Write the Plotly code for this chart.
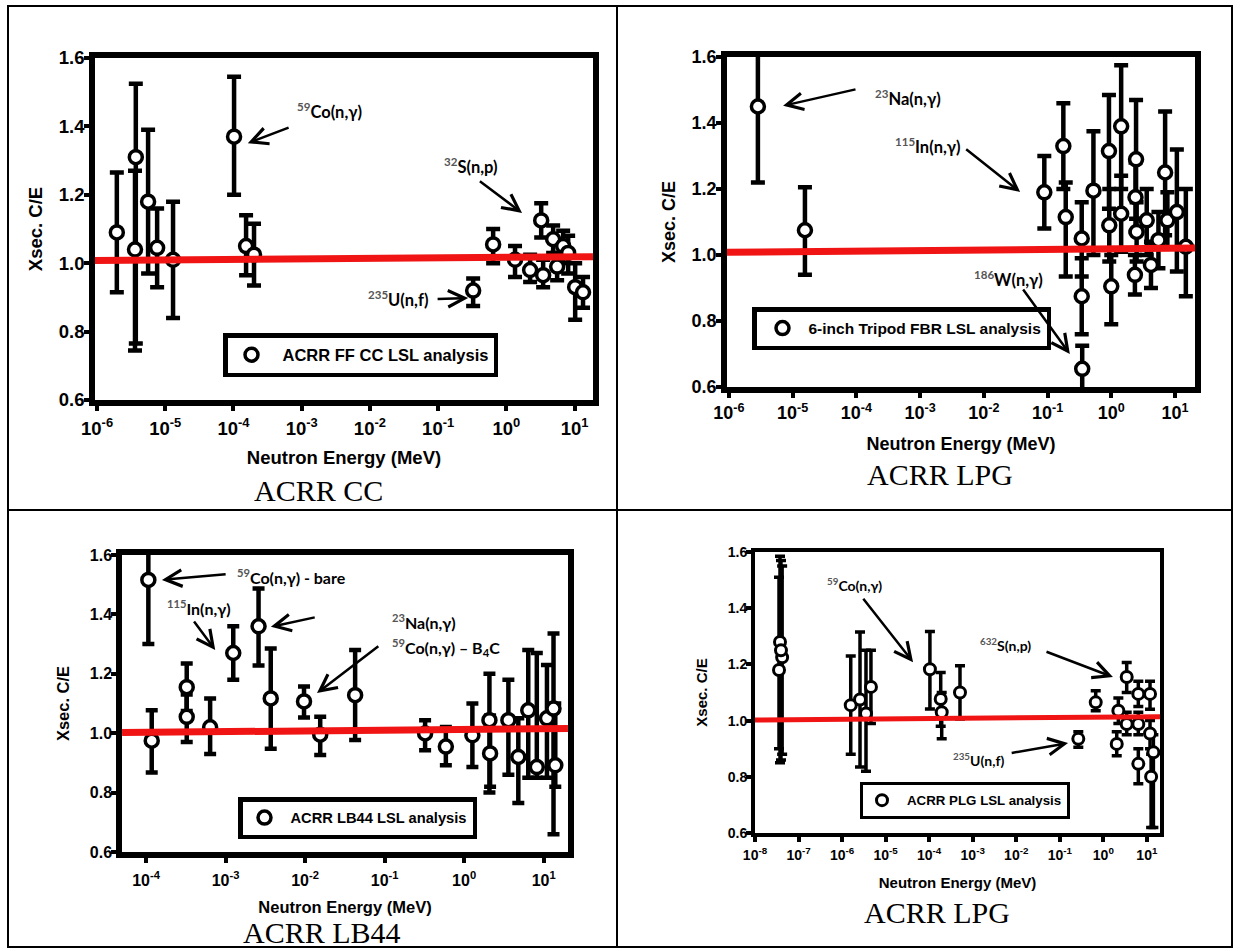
import plotly.graph_objects as go

W, H = 1240, 951

# ---------------- ACRR FF CC (central cavity) ----------------
cc_energy = [1.95e-6, 3.7e-6, 3.6e-6, 5.6e-6, 7.6e-6, 1.3e-5, 1.02e-4, 1.53e-4, 2.0e-4,
             0.326, 0.64, 1.34, 3.24, 2.23, 3.46, 4.85, 6.8, 5.55, 8.05, 10.2, 13.3]
cc_ratio = [1.09, 1.31, 1.04, 1.18, 1.045, 1.01, 1.37, 1.05, 1.025,
            0.92, 1.055, 1.01, 1.125, 0.98, 0.965, 1.07, 1.05, 0.99, 1.03, 0.93, 0.915]
cc_upper = [1.265, 1.525, 1.27, 1.39, 1.16, 1.18, 1.545, 1.14, 1.115,
            0.955, 1.10, 1.05, 1.175, 1.025, 1.01, 1.11, 1.095, 1.03, 1.08, 1.0, 0.96]
cc_lower = [0.915, 0.765, 0.745, 0.97, 0.93, 0.84, 1.20, 0.965, 0.935,
            0.875, 1.0, 0.96, 1.075, 0.945, 0.93, 1.03, 1.0, 0.95, 0.97, 0.835, 0.87]
cc_fit_energy = [9.3e-7, 18.6]
cc_fit_ratio = [1.008, 1.019]

# ---------------- 6-inch Tripod FBR (ACRR LPG) ----------------
tp_energy = [2.85e-6, 1.56e-5, 0.089, 0.177, 0.193, 0.344, 0.344, 0.35, 0.525, 0.92, 0.93,
             1.0, 1.43, 1.43, 2.45, 2.4, 2.5, 2.35, 3.6, 4.2, 5.5, 7.0, 7.6, 10.7, 14.8]
tp_ratio = [1.45, 1.075, 1.19, 1.33, 1.115, 1.05, 0.875, 0.655, 1.195, 1.315, 1.09,
            0.905, 1.39, 1.125, 1.29, 1.175, 1.07, 0.94, 1.105, 0.97, 1.045, 1.25, 1.105, 1.13, 1.025]
tp_upper = [1.68, 1.205, 1.30, 1.46, 1.22, 1.16, 0.99, 0.725, 1.375, 1.485, 1.20,
            1.0, 1.575, 1.24, 1.47, 1.28, 1.16, 1.0, 1.2, 1.04, 1.13, 1.435, 1.19, 1.32, 1.2]
tp_lower = [1.22, 0.94, 1.08, 1.2, 0.935, 0.935, 0.76, 0.57, 1.0, 1.14, 0.98,
            0.79, 1.2, 1.01, 1.11, 1.07, 0.98, 0.88, 1.0, 0.9, 0.96, 1.06, 1.02, 0.95, 0.875]
tp_fit_energy = [9.3e-7, 20.6]
tp_fit_ratio = [1.008, 1.021]

# ---------------- ACRR LB44 ----------------
lb_energy = [1.07e-4, 1.18e-4, 3.25e-4, 3.25e-4, 6.4e-4, 1.25e-3, 2.6e-3, 3.7e-3, 9.7e-3,
             1.55e-2, 4.26e-2, 0.323, 0.589, 1.27, 2.08, 2.12, 3.6, 4.8, 6.4, 8.2, 11.0, 13.3, 14.0]
lb_ratio = [1.516, 0.975, 1.155, 1.055, 1.02, 1.27, 1.36, 1.117, 1.107,
            0.995, 1.128, 0.999, 0.955, 0.993, 1.044, 0.932, 1.044, 0.92, 1.077, 0.886, 1.05, 1.083, 0.892]
lb_upper = [1.66, 1.077, 1.235, 1.13, 1.117, 1.36, 1.487, 1.285, 1.157,
            1.055, 1.28, 1.044, 1.021, 1.10, 1.20, 1.06, 1.18, 1.05, 1.28, 1.27, 1.23, 1.336, 1.10]
lb_lower = [1.30, 0.868, 1.075, 0.97, 0.93, 1.18, 1.228, 0.948, 1.053,
            0.927, 0.977, 0.943, 0.892, 0.886, 0.80, 0.82, 0.86, 0.765, 0.85, 0.85, 0.85, 0.66, 0.82]
lb_fit_energy = [5.0e-5, 20.2]
lb_fit_ratio = [1.002, 1.016]

# ---------------- ACRR PLG ----------------
pl_energy = [3.56e-8, 3.75e-8, 4.2e-8, 3.95e-8, 1.58e-6, 2.58e-6, 3.54e-6, 4.6e-6, 1.04e-4,
             1.84e-4, 1.94e-4, 5.1e-4, 0.266, 0.668, 3.44, 6.35, 11.8, 2.21, 3.44, 2.03,
             6.35, 6.35, 14.1, 11.8, 12.5]
pl_ratio = [1.18, 1.28, 1.225, 1.25, 1.055, 1.075, 1.025, 1.12, 1.183,
            1.077, 1.03, 1.10, 0.935, 1.065, 1.155, 1.095, 1.095, 1.035, 0.988, 0.917,
            0.988, 0.846, 0.887, 0.954, 0.80]
pl_upper = [1.51, 1.585, 1.55, 1.57, 1.23, 1.315, 1.25, 1.25, 1.317,
            1.171, 1.10, 1.195, 0.96, 1.106, 1.207, 1.14, 1.14, 1.08, 1.03, 0.96,
            1.03, 0.90, 0.95, 1.0, 0.88]
pl_lower = [0.90, 0.85, 0.88, 0.86, 0.88, 0.835, 0.82, 0.99, 1.041,
            0.98, 0.935, 1.006, 0.905, 1.035, 1.10, 1.05, 1.04, 0.99, 0.95, 0.875,
            0.95, 0.775, 0.62, 0.90, 0.62]
pl_fit_energy = [1.0e-8, 20.0]
pl_fit_ratio = [1.002, 1.014]

y_ticks = [0.6, 0.8, 1.0, 1.2, 1.4, 1.6]

SANS = "Liberation Sans"
LABEL = "Lato"
SERIF = "Liberation Serif"


def sup_label(mass, rest):
    return f"<span style='color:#555555'><sup>{mass}</sup></span>{rest}"


panels = [
    dict(energy=cc_energy, ratio=cc_ratio, upper=cc_upper, lower=cc_lower,
         fit_e=cc_fit_energy, fit_r=cc_fit_ratio, legend_name="ACRR FF CC LSL analysis",
         box=(95, 593, 58, 400), xrange=(-6.03, 1.27), decades=range(-6, 2),
         tick=18.5, title=18.5, leg=16.5, msize=13, mline=3.5, bar=4.5, cap=7, frame=5.5, red=7,
         lab=16.5, legpos=(223, 333), indent=-7, itemw=52, ytitle_std=13, xtitle_std=15,
         xlab_std=2, caption=("ACRR CC", 318, 490, "middle"),
         labels=[(sup_label(59, "Co(n,γ)"), -3.10, 1.445, "left"),
                 (sup_label(32, "S(n,p)"), -0.95, 1.283, "left"),
                 (sup_label(235, "U(n,f)"), -1.10, 0.895, "right")],
         arrows=[(-3.79, 1.351, -3.17, 1.398),
                 (0.23, 1.147, -0.41, 1.243),
                 (-0.56, 0.898, -1.03, 0.895)]),
    dict(energy=tp_energy, ratio=tp_ratio, upper=tp_upper, lower=tp_lower,
         fit_e=tp_fit_energy, fit_r=tp_fit_ratio, legend_name="6-inch Tripod FBR LSL analysis",
         box=(727, 1195, 57, 387), xrange=(-6.03, 1.314), decades=range(-6, 2),
         tick=18, title=18, leg=15.5, msize=13, mline=3.5, bar=4.5, cap=7, frame=5.5, red=7,
         lab=16.5, legpos=(752, 307), indent=0, itemw=42, ytitle_std=13, xtitle_std=17,
         xlab_std=0, caption=("ACRR LPG", 940, 474, "middle"),
         labels=[(sup_label(23, "Na(n,γ)"), -3.74, 1.476, "left"),
                 (sup_label(115, "In(n,γ)"), -3.43, 1.330, "left"),
                 (sup_label(186, "W(n,γ)"), -2.19, 0.926, "left")],
         arrows=[(-5.15, 1.452, -3.99, 1.503),
                 (-1.43, 1.191, -2.30, 1.324),
                 (-0.65, 0.70, -1.40, 0.90)]),
    dict(energy=lb_energy, ratio=lb_ratio, upper=lb_upper, lower=lb_lower,
         fit_e=lb_fit_energy, fit_r=lb_fit_ratio, legend_name="ACRR LB44 LSL analysis",
         box=(122, 568, 555, 852), xrange=(-4.302, 1.306), decades=range(-4, 2),
         tick=16, title=16.5, leg=14.7, msize=13, mline=3.5, bar=4.5, cap=6, frame=5.5, red=7,
         lab=16, legpos=(238, 797), indent=-4, itemw=42, ytitle_std=18, xtitle_std=15,
         xlab_std=4, caption=("ACRR LB44", 322, 951, "bottom"),
         labels=[(sup_label(59, "Co(n,γ) - bare"), -2.88, 1.528, "left"),
                 (sup_label(115, "In(n,γ)"), -3.76, 1.424, "left"),
                 (sup_label(23, "Na(n,γ)"), -0.93, 1.376, "left"),
                 (sup_label(59, "Co(n,γ) – B<sub>4</sub>C"), -0.93, 1.289, "left")],
         arrows=[(-3.80, 1.516, -2.98, 1.536),
                 (-3.13, 1.280, -3.41, 1.381),
                 (-2.43, 1.358, -1.86, 1.391),
                 (-1.85, 1.135, -1.06, 1.297)]),
    dict(energy=pl_energy, ratio=pl_ratio, upper=pl_upper, lower=pl_lower,
         fit_e=pl_fit_energy, fit_r=pl_fit_ratio, legend_name="ACRR PLG LSL analysis",
         box=(755, 1160, 552, 833), xrange=(-8.0, 1.301), decades=range(-8, 2),
         tick=14, title=15, leg=13.3, msize=11, mline=3, bar=3.5, cap=5, frame=4, red=5,
         lab=14, legpos=(860, 782), indent=-6, itemw=40, ytitle_std=17, xtitle_std=17,
         xlab_std=1, caption=("ACRR LPG", 937, 912, "middle"),
         labels=[(sup_label(59, "Co(n,γ)"), -6.39, 1.484, "left"),
                 (sup_label(632, "S(n,p)"), -2.88, 1.270, "left"),
                 (sup_label(235, "U(n,f)"), -2.21, 0.862, "right")],
         arrows=[(-4.37, 1.208, -5.54, 1.439),
                 (0.22, 1.155, -1.34, 1.247),
                 (-0.81, 0.92, -2.14, 0.884)]),
]

fig = go.Figure()
layout = dict(width=W, height=H, margin=dict(l=0, r=0, t=0, b=0), autosize=False,
              paper_bgcolor="white", plot_bgcolor="white", showlegend=True)
annotations = []
shapes = []

for i, p in enumerate(panels, start=1):
    xa = "x" if i == 1 else f"x{i}"
    ya = "y" if i == 1 else f"y{i}"
    leg = "legend" if i == 1 else f"legend{i}"
    e_plus = [u - r for u, r in zip(p["upper"], p["ratio"])]
    e_minus = [r - l for r, l in zip(p["ratio"], p["lower"])]

    fig.add_trace(go.Scatter(
        x=p["energy"], y=p["ratio"], mode="markers", name=p["legend_name"],
        xaxis=xa, yaxis=ya, legend=leg, cliponaxis=True,
        marker=dict(symbol="circle", size=p["msize"], color="white",
                    line=dict(color="black", width=p["mline"])),
        error_y=dict(type="data", symmetric=False, array=e_plus, arrayminus=e_minus,
                     color="black", thickness=p["bar"], width=p["cap"]),
    ))
    fig.add_trace(go.Scatter(
        x=p["fit_e"], y=p["fit_r"], mode="lines", showlegend=False,
        xaxis=xa, yaxis=ya, line=dict(color="#f01414", width=p["red"]),
    ))

    x0, x1, y0, y1 = p["box"]
    axis_common = dict(showline=True, mirror=True, linecolor="black", linewidth=p["frame"],
                       ticks="outside", ticklen=5, tickwidth=4, tickcolor="black",
                       showgrid=False, zeroline=False, automargin=False,
                       tickfont=dict(family=SANS, size=p["tick"], color="black", weight="bold"))
    tickvals = [10.0 ** k for k in p["decades"]]
    ticktext = [f"10<sup>{k}</sup>" for k in p["decades"]]
    layout["xaxis" if i == 1 else f"xaxis{i}"] = dict(
        axis_common, type="log", range=list(p["xrange"]), domain=[x0 / W, x1 / W],
        anchor=ya, tickvals=tickvals, ticktext=ticktext, ticklabelstandoff=p["xlab_std"],
        title=dict(text="Neutron Energy (MeV)", standoff=p["xtitle_std"],
                   font=dict(family=SANS, size=p["title"], color="black", weight="bold")))
    layout["yaxis" if i == 1 else f"yaxis{i}"] = dict(
        axis_common, range=[0.6, 1.6], domain=[1 - y1 / H, 1 - y0 / H], anchor=xa,
        tickvals=y_ticks, tickformat=".1f", ticklabelstandoff=-4,
        title=dict(text="Xsec. C/E", standoff=p["ytitle_std"],
                   font=dict(family=SANS, size=p["title"], color="black", weight="bold")))

    lx, ly = p["legpos"]
    layout[leg] = dict(x=lx / W, y=1 - ly / H, xanchor="left", yanchor="top",
                       xref="paper", yref="paper", bgcolor="white",
                       bordercolor="black", borderwidth=p["frame"] - 1,
                       indentation=p["indent"], itemwidth=p["itemw"],
                       font=dict(family=SANS, size=p["leg"], color="black", weight="bold"))

    for text, lxv, lyv, anchor in p["labels"]:
        annotations.append(dict(x=lxv, y=lyv, xref=xa, yref=ya, text=text, showarrow=False,
                                xanchor=anchor, yanchor="middle",
                                font=dict(family=LABEL, size=p["lab"], color="black",
                                          weight="bold")))
    for hx, hy, tx, ty in p["arrows"]:
        annotations.append(dict(x=hx, y=hy, ax=tx, ay=ty, xref=xa, yref=ya, axref=xa, ayref=ya,
                                text="", showarrow=True, arrowhead=5, arrowsize=1.3,
                                arrowwidth=2.5, arrowcolor="black"))

    cap, cx, cy, vanchor = p["caption"]
    annotations.append(dict(x=cx / W, y=1 - cy / H, xref="paper", yref="paper", text=cap,
                            showarrow=False, xanchor="center", yanchor=vanchor,
                            font=dict(family=SERIF, size=30, color="black")))

# table rules separating the four cases
rule = dict(color="black", width=2)
shapes.append(dict(type="rect", xref="paper", yref="paper", x0=8 / W, x1=1232 / W,
                   y0=1 - 947 / H, y1=1 - 6 / H, line=rule))
shapes.append(dict(type="line", xref="paper", yref="paper", x0=617 / W, x1=617 / W,
                   y0=1 - 947 / H, y1=1 - 6 / H, line=rule))
shapes.append(dict(type="line", xref="paper", yref="paper", x0=8 / W, x1=1232 / W,
                   y0=1 - 510 / H, y1=1 - 510 / H, line=rule))

layout["annotations"] = annotations
layout["shapes"] = shapes
fig.update_layout(**layout)
fig.write_html("out.html")
